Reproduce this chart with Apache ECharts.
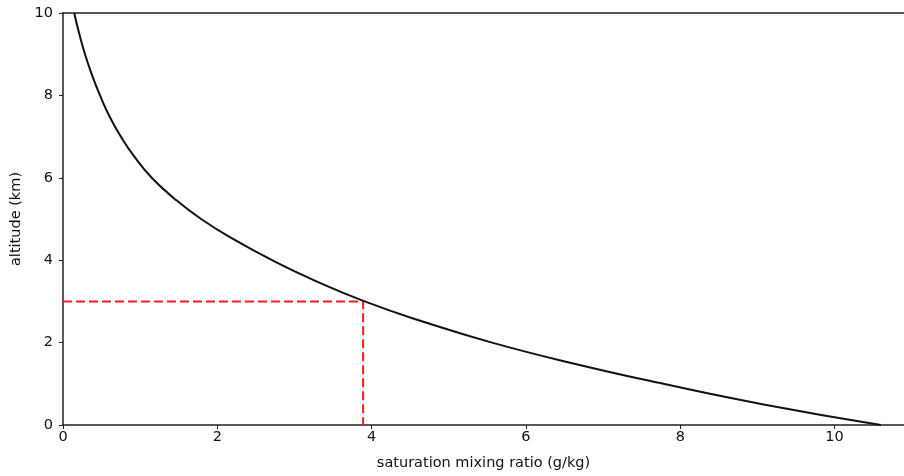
<!DOCTYPE html>
<html>
<head>
<meta charset="utf-8">
<script src="https://cdn.jsdelivr.net/npm/echarts@6/dist/echarts.min.js"></script>
<style>
  html, body { margin: 0; padding: 0; background: #fff; }
  #chart { width: 904px; height: 476px; }
</style>
</head>
<body>
<div id="chart"></div>
<script>
// ============================================================
// DATA
// ============================================================

// altitude (km) and the saturation mixing ratio (g/kg) at that altitude
const altitudes = [0, 0.5, 1, 1.5, 2, 2.5, 3, 3.5, 4, 4.5, 5,
                   5.5, 6, 6.5, 7, 7.5, 8, 8.5, 9, 9.5, 10];
const mixingRatios = [10.6, 9.08, 7.78, 6.6, 5.56, 4.68, 3.91, 3.27, 2.71, 2.22, 1.79,
                      1.44, 1.15, 0.93, 0.75, 0.6, 0.48, 0.375, 0.285, 0.21, 0.145];

// the red dashed marker: mixing ratio at 3 km
const markerRatio = 3.89;
const markerAltitude = 3;

const xTicks = [0, 2, 4, 6, 8, 10];
const yTicks = [0, 2, 4, 6, 8, 10];


// ============================================================
// BUILD SERIES DATA
// ============================================================

const curveData = altitudes.map(function(a, i) { return [mixingRatios[i], a]; });

const markerData = [
  [0, markerAltitude],
  [markerRatio, markerAltitude],
  [markerRatio, 0]
];

const font = 'DejaVu Sans';

const chart = echarts.init(document.getElementById('chart'));

chart.setOption({
  animation: false,
  backgroundColor: '#fff',
  grid: { left: 63, right: 0, top: 13, bottom: 50 },
  xAxis: [{
    type: 'value',
    min: 0,
    max: 10.9,
    interval: 2,
    name: 'saturation mixing ratio (g/kg)',
    nameLocation: 'middle',
    nameGap: 31,
    nameTextStyle: { fontFamily: font, fontSize: 14.5, color: '#111' },
    axisLine: { show: true, lineStyle: { color: '#222', width: 1.5 } },
    axisTick: { show: true, length: 4, lineStyle: { color: '#222' } },
    axisLabel: {
      fontFamily: font, fontSize: 14.5, color: '#111', margin: 5,
      showMaxLabel: false,
      formatter: function(v) { return xTicks.indexOf(v) >= 0 ? String(v) : ''; }
    },
    splitLine: { show: false }
  }, {
    // top spine only
    type: 'value',
    position: 'top',
    min: 0,
    max: 10.9,
    axisLine: { show: true, lineStyle: { color: '#222', width: 1.5 } },
    axisTick: { show: false },
    axisLabel: { show: false },
    splitLine: { show: false }
  }],
  yAxis: {
    type: 'value',
    min: 0,
    max: 10,
    interval: 2,
    name: 'altitude (km)',
    nameLocation: 'middle',
    nameGap: 34,
    nameTextStyle: { fontFamily: font, fontSize: 14.5, color: '#111' },
    axisLine: { show: true, lineStyle: { color: '#222', width: 1.5 } },
    axisTick: { show: true, length: 4, lineStyle: { color: '#222' } },
    axisLabel: {
      fontFamily: font, fontSize: 14.5, color: '#111', margin: 10,
      formatter: function(v) { return yTicks.indexOf(v) >= 0 ? String(v) : ''; }
    },
    splitLine: { show: false }
  },
  series: [{
    type: 'line',
    data: curveData,
    smooth: 0.5,
    symbol: 'none',
    lineStyle: { color: '#111', width: 2 },
    z: 3
  }, {
    type: 'line',
    data: markerData,
    symbol: 'none',
    lineStyle: { color: '#ff1a1a', width: 2, type: [9, 4] },
    z: 2
  }]
});
</script>
</body>
</html>
